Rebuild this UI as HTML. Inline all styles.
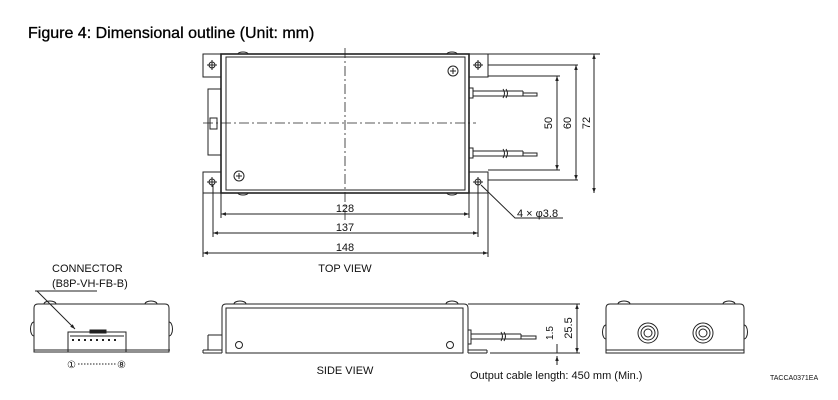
<!DOCTYPE html>
<html><head><meta charset="utf-8"><style>
body{margin:0;background:#fff}
svg{display:block}
text{font-family:"Liberation Sans",Arial,sans-serif;fill:#111}
</style></head><body>
<svg width="838" height="400" viewBox="0 0 838 400" xmlns="http://www.w3.org/2000/svg">
<defs>
<marker id="a" viewBox="0 0 10 10" refX="10" refY="5" markerWidth="7" markerHeight="5" orient="auto-start-reverse"><path d="M0,1.5L10,5L0,8.5z" fill="#222"/></marker>
</defs>
<text x="28" y="38" font-size="16" style="fill:#000;stroke:#000;stroke-width:0.3">Figure 4: Dimensional outline (Unit: mm)</text>
<g stroke="#222" fill="none" stroke-width="1">
<!-- top view -->
<rect x="203" y="54" width="18" height="23"/><rect x="469" y="54" width="19" height="23"/>
<rect x="203" y="172" width="18" height="21"/><rect x="469" y="172" width="19" height="21"/>
<rect x="221" y="54" width="248" height="139" stroke-width="1.6"/>
<rect x="226" y="57" width="239" height="133"/>
<path d="M238,54a5,2 0 0 1 10,0M447,54a5,2 0 0 1 10,0M238,193a5,2 0 0 0 10,0M447,193a5,2 0 0 0 10,0"/>
<rect x="208" y="89" width="13" height="66"/><rect x="210" y="118" width="7" height="11"/>
<circle cx="212" cy="65" r="3"/><circle cx="478" cy="65" r="3"/><circle cx="212" cy="182" r="3"/><circle cx="478" cy="182" r="3"/>
<path d="M207,65h10M212,60v10M473,65h10M478,60v10M207,182h10M212,177v10M473,182h10M478,177v10"/>
<circle cx="453" cy="71" r="5"/><circle cx="239" cy="176" r="5"/>
<path d="M450,71h6M453,68v6M236,176h6M239,173v6"/>
<path d="M345,48v172M203,123h273" stroke-dasharray="10,3,2,3" stroke-width="0.8"/>
<path d="M469,88h4v10h-4M469,148h4v10h-4"/>
<path d="M473,91h50M473,96h50M473,151h50M473,156h50"/>
<path d="M503,89q3,4 0,9M506,89q3,4 0,9M503,149q3,4 0,9M506,149q3,4 0,9"/>
<path d="M523,91v5h14v-3h-14M523,151v5h14v-3h-14"/>
<path d="M488,54h112M488,65h90M488,76h72M488,170h72M488,180h90"/>
<path d="M557,76V170" marker-start="url(#a)" marker-end="url(#a)"/>
<path d="M576,65V180" marker-start="url(#a)" marker-end="url(#a)"/>
<path d="M594,54V193" marker-start="url(#a)" marker-end="url(#a)"/>
<path d="M221,193v25M469,193v25M213,185v52M478,185v52M203,193v64M488,193v64"/>
<path d="M221,214H469" marker-start="url(#a)" marker-end="url(#a)"/>
<path d="M213,233H478" marker-start="url(#a)" marker-end="url(#a)"/>
<path d="M203,253H488" marker-start="url(#a)" marker-end="url(#a)"/>
<path d="M481,185L515,218h48"/>
<!-- left end view -->
<path d="M34,352V308q0-4 4-4H165q4,0 4,4V352z"/>
<path d="M34,350h136"/>
<path d="M44,304a6,3 0 0 1 12,0M145,304a6,3 0 0 1 12,0M34,322a3,6 0 0 0 0,14M169,322a3,6 0 0 1 0,14"/>
<rect x="68" y="332" width="58" height="20"/><rect x="90" y="330" width="16" height="3" fill="#222"/>
<path d="M70,336h54"/>
<path d="M72,340h2M78,340h2M84,340h2M90,340h2M96,340h2M102,340h2M108,340h2M114,340h2" stroke-width="2"/>
<path d="M37,291L75,329" marker-end="url(#a)"/><path d="M35,291h62"/>
<path d="M78,364h38" stroke-dasharray="1.5,1.5"/>
<!-- side view -->
<path d="M222,353V308q0-4 4-4H464q4,0 4,4V353"/>
<rect x="226" y="308" width="237" height="45"/>
<path d="M203,353h19M203,350h19M203,350v3M468,353h19M468,350h19M487,350v3M208,335h14v15M208,335v15"/>
<path d="M234,304a6,3 0 0 1 12,0M446,304a6,3 0 0 1 12,0"/>
<circle cx="239" cy="345" r="3.5"/><circle cx="450" cy="345" r="3.5"/>
<path d="M468,330h3v14h-3M471,334h50M471,339h50M521,334v5h15v-3h-15"/>
<path d="M501,332q3,4 0,9M504,332q3,4 0,9"/>
<path d="M468,304h112M490,353h90"/>
<path d="M577,304V353" marker-start="url(#a)" marker-end="url(#a)"/>
<path d="M557,344V353M557,365V356" marker-end="url(#a)"/>
<!-- right end view -->
<path d="M606,353V308q0-4 4-4H740q4,0 4,4V353z"/>
<path d="M606,350h138"/>
<path d="M618,304a6,3 0 0 1 12,0M723,304a6,3 0 0 1 12,0M606,325a3,6 0 0 0 0,14M744,325a3,6 0 0 1 0,14"/>
<circle cx="648" cy="333" r="10"/><circle cx="648" cy="333" r="7"/><circle cx="648" cy="333" r="4"/>
<circle cx="703" cy="333" r="10"/><circle cx="703" cy="333" r="7"/><circle cx="703" cy="333" r="4"/>
</g>
<g font-size="11">
<text x="345" y="212" text-anchor="middle">128</text>
<text x="345" y="231" text-anchor="middle">137</text>
<text x="345" y="251" text-anchor="middle">148</text>
<text x="345" y="272" text-anchor="middle">TOP VIEW</text>
<text x="517" y="217">4 × φ3.8</text>
<text transform="translate(552,123) rotate(-90)" text-anchor="middle">50</text>
<text transform="translate(571,123) rotate(-90)" text-anchor="middle">60</text>
<text transform="translate(590,123) rotate(-90)" text-anchor="middle">72</text>
<text x="52" y="272">CONNECTOR</text>
<text x="52" y="287">(B8P-VH-FB-B)</text>
<text x="67" y="368" font-size="10">①</text>
<text x="117" y="368" font-size="10">⑧</text>
<text x="345" y="374" text-anchor="middle">SIDE VIEW</text>
<text transform="translate(572,328) rotate(-90)" text-anchor="middle">25.5</text>
<text transform="translate(553,333) rotate(-90)" text-anchor="middle" font-size="10">1.5</text>
<text x="470" y="379">Output cable length: 450 mm (Min.)</text>
<text x="770" y="380" font-size="7">TACCA0371EA</text>
</g>
</svg>
</body></html>
